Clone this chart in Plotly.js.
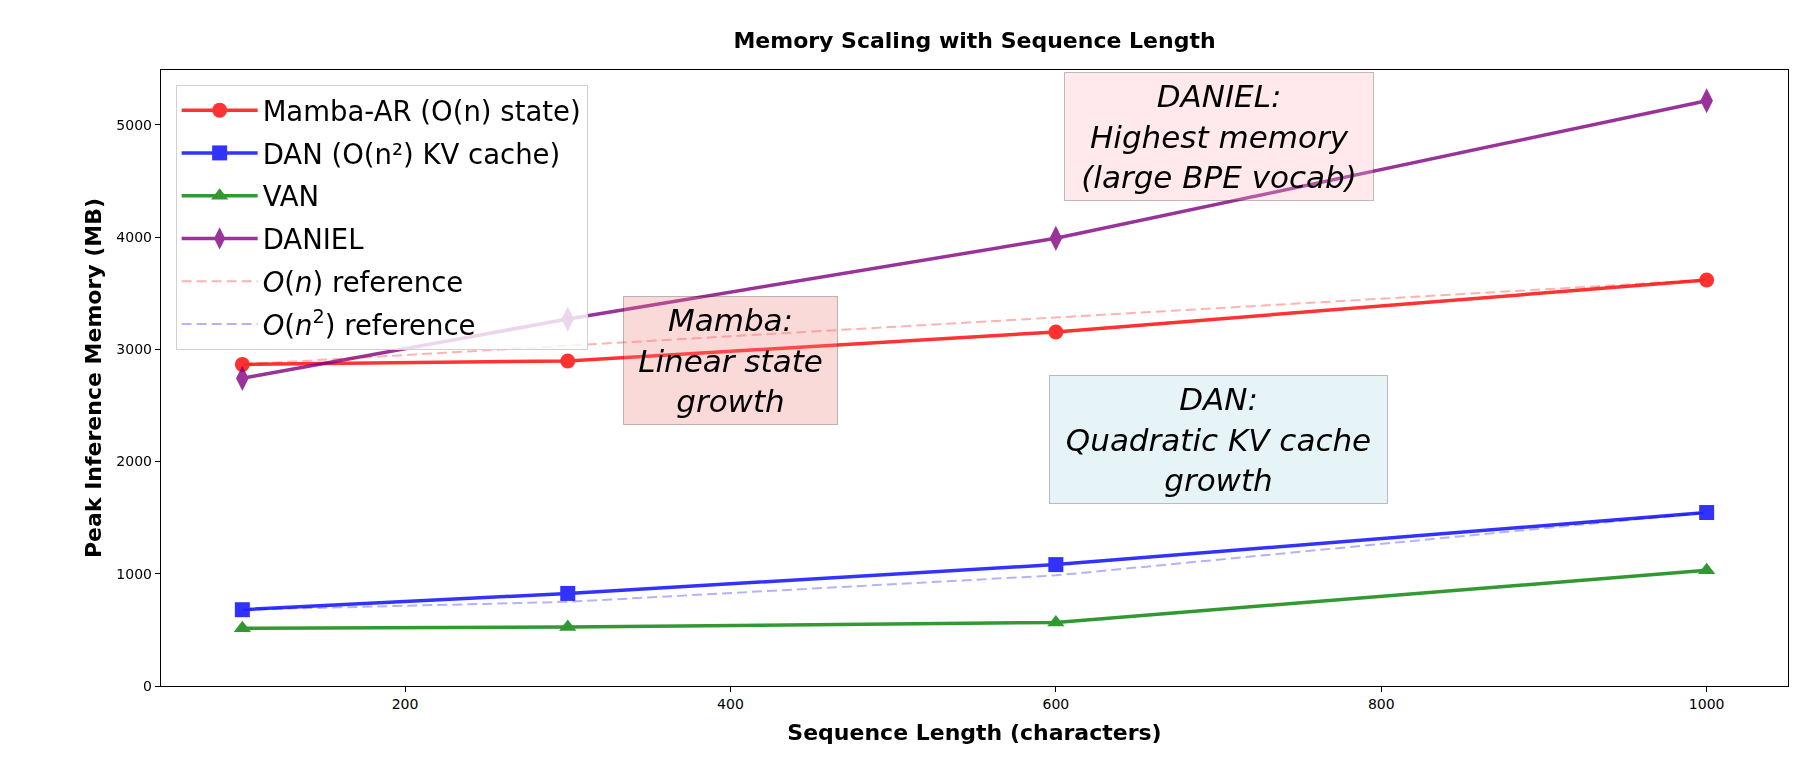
<!DOCTYPE html>
<html>
<head>
<meta charset="utf-8">
<script src="https://cdn.plot.ly/plotly-3.0.1.min.js"></script>
<style>
  html, body { margin: 0; padding: 0; background: #fff; }
  #chart { width: 1814px; height: 773px; }
</style>
</head>
<body>
<div id="chart"></div>
<script>
// values
const seqLengths = [100, 300, 600, 1000]
const mambaMem = [2866, 2897, 3155, 3619]
const danMem = [680, 825, 1082, 1546]
const vanMem = [515, 526, 567, 1031]
const danielMem = [2742, 3270, 3990, 5216]
const linearRef = [2866, 3033, 3284, 3619]
const quadRef = [680, 750, 986, 1546]

const xTicks = [200, 400, 600, 800, 1000]
const yTicks = [0, 1000, 2000, 3000, 4000, 5000]

const FONT = 'DejaVu Sans, Liberation Sans, sans-serif'

function series(name, y, color, symbol) {
  return {
    x: seqLengths,
    y,
    name,
    legendgroup: name,
    type: 'scatter',
    mode: 'lines+markers',
    opacity: 0.8,
    line: {color, width: 3.5},
    marker: {color, symbol, size: symbol === 'diamond-tall' ? 18 : 15, line: {width: 0}},
  }
}

function reference(name, y, color) {
  return {
    x: seqLengths,
    y,
    name,
    legendgroup: name,
    type: 'scatter',
    mode: 'lines',
    line: {color, width: 2, dash: '10px,5px'},
  }
}

const traces = [
  series('Mamba-AR (O(n) state)', mambaMem, 'rgb(255,0,0)', 'circle'),
  series('DAN (O(n²) KV cache)', danMem, 'rgb(0,0,255)', 'square'),
  series('VAN', vanMem, 'rgb(0,128,0)', 'triangle-up'),
  series('DANIEL', danielMem, 'rgb(128,0,128)', 'diamond-tall'),
  reference('<i>O</i>(<i>n</i>) reference', linearRef, 'rgba(255,0,0,0.3)'),
  reference('<i>O</i>(<i>n</i><sup>2</sup>) reference', quadRef, 'rgba(0,0,255,0.3)'),
]

function note(x, y, text, bg, w) {
  return {
    x, y, xref: 'x', yref: 'y',
    text: '<i>' + text + '</i>',
    showarrow: false,
    align: 'center',
    width: w,
    height: 119,
    font: {family: FONT, size: 31, color: '#000'},
    bgcolor: bg,
    bordercolor: 'rgba(0,0,0,0.25)',
    borderwidth: 1,
    borderpad: 4,
  }
}

const layout = {
  width: 1814,
  height: 773,
  margin: {l: 161, r: 26, t: 70, b: 87},
  paper_bgcolor: '#fff',
  plot_bgcolor: '#fff',
  font: {family: FONT, color: '#000'},
  title: {
    text: '<b>Memory Scaling with Sequence Length</b>',
    font: {family: FONT, size: 22, color: '#000'},
    xref: 'paper', x: 0.5, xanchor: 'center',
    y: 0.948, yanchor: 'middle',
  },
  xaxis: {
    title: {text: '<b>Sequence Length (characters)</b>', font: {size: 22}, standoff: 13},
    range: [50, 1050],
    tickvals: xTicks,
    ticks: 'outside', ticklen: 5, tickcolor: '#000',
    tickfont: {size: 14},
    showgrid: false, zeroline: false,
    showline: true, linecolor: '#000', linewidth: 1.2, mirror: true,
  },
  yaxis: {
    title: {text: '<b>Peak Inference Memory (MB)</b>', font: {size: 22}, standoff: 8},
    range: [0, 5490],
    tickvals: yTicks,
    ticks: 'outside', ticklen: 5, tickcolor: '#000',
    tickfont: {size: 14},
    showgrid: false, zeroline: false,
    showline: true, linecolor: '#000', linewidth: 1.2, mirror: true,
  },
  legend: {
    x: 0.009, y: 0.976, xanchor: 'left', yanchor: 'top',
    bgcolor: 'rgba(255,255,255,0.8)',
    bordercolor: '#d0d0d0', borderwidth: 1,
    font: {family: FONT, size: 27.5, color: '#000'},
    itemwidth: 76,
    tracegroupgap: 4,
  },
  annotations: [
    note(700, 4900, 'DANIEL:<br>Highest memory<br>(large BPE vocab)', 'rgba(255,182,193,0.3)', 300),
    note(400, 2900, 'Mamba:<br>Linear state<br>growth', 'rgba(240,128,128,0.3)', 205),
    note(700, 2200, 'DAN:<br>Quadratic KV cache<br>growth', 'rgba(173,216,230,0.3)', 329),
  ],
}

Plotly.newPlot('chart', traces, layout, {displayModeBar: false, staticPlot: true})
</script>
</body>
</html>
